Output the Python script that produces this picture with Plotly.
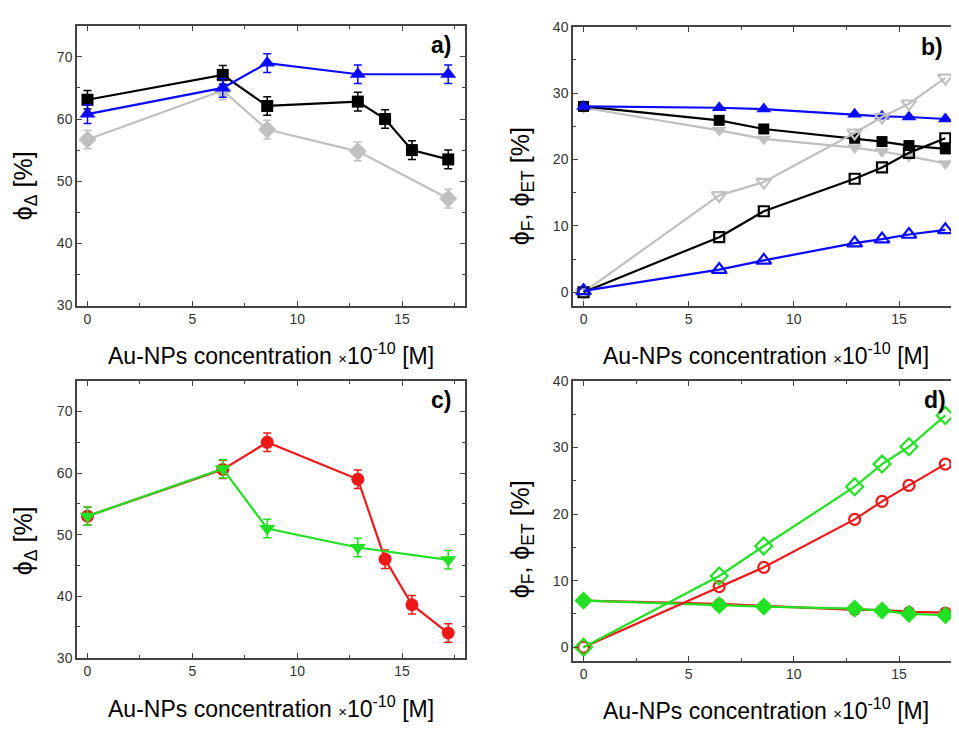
import plotly.graph_objects as go

# ---- data ----
conc = [0, 6.45, 8.57, 12.89, 14.19, 15.47, 17.2]
conc5 = [0, 6.45, 8.57, 12.89, 17.2]

# panel a (phi_Delta)
a_black = [63.1, 67.1, 62.1, 62.8, 60.0, 55.0, 53.5]
a_blue = [60.8, 65.0, 69.0, 67.2, 67.2]
a_gray = [56.7, 64.6, 58.3, 54.8, 47.2]
a_err = 1.5

# panel b (phi_F filled, phi_ET open)
b_blue_f = [28.0, 27.8, 27.6, 26.8, 26.5, 26.4, 26.1]
b_black_f = [28.0, 25.9, 24.6, 23.2, 22.7, 22.1, 21.6]
b_gray_f = [27.8, 24.4, 23.1, 21.8, 21.2, 20.5, 19.4]
b_black_o = [0.0, 8.3, 12.2, 17.1, 18.8, 21.0, 23.2]
b_gray_o = [0.0, 14.6, 16.6, 24.0, 26.4, 28.4, 32.3]
b_blue_o = [0.2, 3.4, 4.8, 7.4, 8.0, 8.7, 9.4]

# panel c (phi_Delta)
c_red = [53.0, 60.6, 65.0, 59.0, 46.0, 38.6, 34.0]
c_green = [53.0, 60.7, 51.0, 47.9, 45.9]
c_err = 1.5

# panel d
d_green_o = [0.0, 10.7, 15.2, 24.1, 27.5, 30.1, 34.8]
d_red_o = [0.0, 9.1, 12.0, 19.2, 21.9, 24.3, 27.5]
d_green_f = [7.0, 6.3, 6.1, 5.8, 5.5, 5.0, 4.8]
d_red_f = [7.0, 6.5, 6.2, 5.6, 5.6, 5.3, 5.2]

BLUE = "#0a0aff"
BLACK = "#000000"
GRAY = "#c0c0c0"
RED = "#ee1818"
GREEN = "#22e022"

fig = go.Figure()

def add(x, y, color, symbol, xa, ya, err=None, size=12, open_=False):
    marker = dict(symbol=symbol, size=size, color=color)
    if open_:
        marker = dict(symbol=symbol + "-open", size=size, color=color, line=dict(width=2.2, color=color))
    tr = dict(x=x, y=y, mode="lines+markers", line=dict(color=color, width=2.2),
              marker=marker, xaxis=xa, yaxis=ya, showlegend=False, cliponaxis=False)
    if err is not None:
        tr["error_y"] = dict(type="constant", value=err, color=color, thickness=1.5, width=4)
    fig.add_trace(go.Scatter(**tr))

# a
add(conc5, a_gray, GRAY, "diamond", "x", "y", a_err, 14)
add(conc, a_black, BLACK, "square", "x", "y", a_err, 12)
add(conc5, a_blue, BLUE, "triangle-up", "x", "y", a_err, 14)

# b
add(conc, b_gray_f, GRAY, "triangle-down", "x2", "y2", None, 13)
add(conc, b_black_f, BLACK, "square", "x2", "y2", None, 11)
add(conc, b_blue_f, BLUE, "triangle-up", "x2", "y2", None, 13)
add(conc, b_gray_o, GRAY, "triangle-down", "x2", "y2", None, 13, True)
add(conc, b_black_o, BLACK, "square", "x2", "y2", None, 10, True)
add(conc, b_blue_o, BLUE, "triangle-up", "x2", "y2", None, 13, True)

# c
add(conc, c_red, RED, "circle", "x3", "y3", c_err, 13)
add(conc5, c_green, GREEN, "triangle-down", "x3", "y3", c_err, 14)

# d
add(conc, d_red_f, RED, "circle", "x4", "y4", None, 12)
add(conc, d_green_f, GREEN, "diamond", "x4", "y4", None, 14)
add(conc, d_red_o, RED, "circle", "x4", "y4", None, 11, True)
add(conc, d_green_o, GREEN, "diamond", "x4", "y4", None, 13, True)

W, H = 959, 730
OFF = 8  # page offset of the figure inside the browser window
def fx(px):
    return (px - OFF) / W
def fy(py):
    return 1 - (py - OFF) / H

axis_common = dict(showline=True, linecolor="#444444", linewidth=1.5, mirror="ticks",
                   ticks="inside", ticklen=5, tickwidth=1.2, tickcolor="#444444",
                   showgrid=False, zeroline=False,
                   tickfont=dict(family="Arial, Liberation Sans", size=14, color="#333333"))

def xaxis(domain, rng, anchor):
    return dict(axis_common, domain=domain, range=rng, anchor=anchor, tickvals=[0, 5, 10, 15],
                minor=dict(ticks="inside", ticklen=3, tickcolor="#444444", dtick=2.5, tick0=0))

def yaxis(domain, rng, anchor, tv):
    return dict(axis_common, domain=domain, range=rng, anchor=anchor, tickvals=tv,
                minor=dict(ticks="inside", ticklen=3, tickcolor="#444444", dtick=5, tick0=0))

fig.update_layout(
    width=W, height=H, margin=dict(l=0, r=0, t=0, b=0),
    plot_bgcolor="white", paper_bgcolor="white",
    xaxis=xaxis([fx(77), fx(465)], [-0.5, 18], "y"),
    yaxis=yaxis([fy(304), fy(18)], [30, 75], "x", [30, 40, 50, 60, 70]),
    xaxis2=xaxis([fx(573), fx(959)], [-0.5, 17.85], "y2"),
    yaxis2=yaxis([fy(304), fy(19)], [-2, 40], "x2", [0, 10, 20, 30, 40]),
    xaxis3=xaxis([fx(77), fx(465)], [-0.5, 18], "y3"),
    yaxis3=yaxis([fy(664), fy(381)], [30, 75], "x3", [30, 40, 50, 60, 70]),
    xaxis4=xaxis([fx(573), fx(959)], [-0.5, 17.85], "y4"),
    yaxis4=yaxis([fy(667), fy(381)], [-2, 40], "x4", [0, 10, 20, 30, 40]),
)

xt = "Au-NPs concentration <span style='font-size:15px'>×</span>10<sup>-10</sup> [M]"
tfont = dict(family="Arial, Liberation Sans", size=23, color="#000000")
for cx, cy in [(271, 354), (766, 354), (271, 714), (766, 717)]:
    fig.add_annotation(x=fx(cx), y=fy(cy), xref="paper", yref="paper", text=xt,
                       showarrow=False, font=tfont, xanchor="center", yanchor="middle")

yt_a = "ϕ<sub>Δ</sub> [%]"
yt_b = "ϕ<sub>F</sub>, ϕ<sub>ET</sub> [%]"
for cx, cy, t in [(25, 182, yt_a), (522, 182, yt_b), (25, 545, yt_a), (522, 543, yt_b)]:
    fig.add_annotation(x=fx(cx), y=fy(cy), xref="paper", yref="paper", text=t, textangle=-90,
                       showarrow=False, font=dict(family="Arial, Liberation Sans", size=25, color="#000000"),
                       xanchor="center", yanchor="middle")

lfont = dict(family="Arial, Liberation Sans", size=23, color="#000000")
for cx, cy, t in [(441, 38, "a)"), (932, 40, "b)"), (441, 401, "c)"), (935, 401, "d)")]:
    fig.add_annotation(x=fx(cx), y=fy(cy), xref="paper", yref="paper", text="<b>" + t + "</b>",
                       showarrow=False, font=lfont, xanchor="center", yanchor="middle")

fig.write_html("out.html")
